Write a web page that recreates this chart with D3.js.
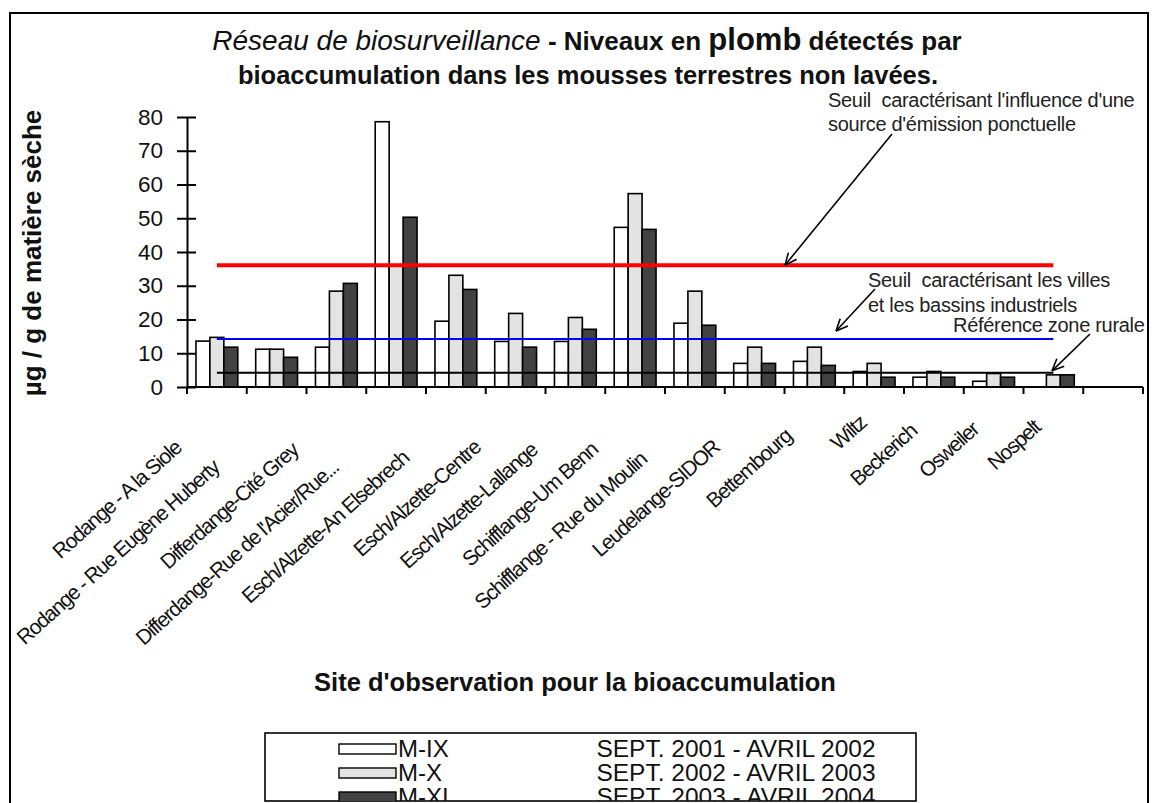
<!DOCTYPE html>
<html><head><meta charset="utf-8">
<script src="https://cdn.jsdelivr.net/npm/d3@7"></script>
<style>
html,body{margin:0;padding:0;background:#fff;overflow:hidden;}
svg{display:block;font-family:"Liberation Sans",Arial,Helvetica,sans-serif;}
</style></head><body>
<svg id="chart" width="1159" height="803"></svg>
<script>
// Sites d'observation (15 sites + one empty slot at the end of the axis)
const sites = [
  "Rodange - A la Siole", "Rodange - Rue Eugène Huberty", "Differdange-Cité Grey",
  "Differdange-Rue de l'Acier/Rue...", "Esch/Alzette-An Elsebrech", "Esch/Alzette-Centre",
  "Esch/Alzette-Lallange", "Schifflange-Um Benn", "Schifflange - Rue du Moulin",
  "Leudelange-SIDOR", "Bettembourg", "Wiltz", "Beckerich", "Osweiler", "Nospelt"
];
const slotCount = 16;

// Lead levels (µg / g dry matter) per campaign
const mIX  = [13.6, 11.2, 11.8, 78.6, 19.5, 13.5, 13.5, 47.3, 18.9, 7.0, 7.6, 4.6, 2.9, 1.7, null];
const mX   = [14.7, 11.2, 28.4, 36.0, 33.1, 21.8, 20.6, 57.3, 28.4, 11.8, 11.8, 7.0, 4.6, 4.0, 3.6];
const mXI  = [11.8, 8.8, 30.7, 50.3, 28.9, 11.8, 17.1, 46.7, 18.3, 7.0, 6.4, 2.9, 2.9, 2.9, 3.6];

const seriesKeys    = ["M-IX", "M-X", "M-XI"];
const seriesPeriods = ["SEPT. 2001 - AVRIL 2002", "SEPT. 2002 - AVRIL 2003", "SEPT. 2003 - AVRIL 2004"];
const seriesFill    = ["#ffffff", "#e3e3e3", "#424242"];

// Reference thresholds
const thresholdValues = [36.1, 14.2, 4.2];
const thresholdColors = ["#ff0000", "#0000ff", "#000000"];
const thresholdWidths = [4, 2, 2];

const yTicks = [0, 10, 20, 30, 40, 50, 60, 70, 80];

const svg = d3.select("#chart");
const plot = {left: 187, right: 1143, top: 117, bottom: 387};
const INK = "#111";

// Outer frame
svg.append("rect").attr("x", 10).attr("y", 13).attr("width", 1138).attr("height", 820)
  .attr("fill", "#fff").attr("stroke", "#000").attr("stroke-width", 2);

const y = d3.scaleLinear().domain([0, 80]).range([plot.bottom, plot.top]);
const x0 = d3.scaleBand().domain(d3.range(slotCount)).range([plot.left, plot.right]).padding(0);
const bw = x0.bandwidth();
const x1 = d3.scaleBand().domain(seriesKeys).range([bw * 0.15, bw * 0.85]).padding(0);

// Bars
[mIX, mX, mXI].forEach((vals, si) => {
  svg.append("g").selectAll("rect")
    .data(vals.map((v, i) => ({i, v})).filter(d => d.v != null))
    .join("rect")
    .attr("x", d => x0(d.i) + x1(seriesKeys[si]))
    .attr("y", d => y(d.v))
    .attr("width", x1.bandwidth())
    .attr("height", d => y(0) - y(d.v))
    .attr("fill", seriesFill[si])
    .attr("stroke", "#000").attr("stroke-width", 1.6);
});

// Threshold lines, drawn from the first to the last site
const xFirst = x0(0) + bw / 2, xLast = x0(sites.length - 1) + bw / 2;
thresholdValues.forEach((v, k) => {
  svg.append("line")
    .attr("x1", xFirst).attr("x2", xLast)
    .attr("y1", y(v)).attr("y2", y(v))
    .attr("stroke", thresholdColors[k]).attr("stroke-width", thresholdWidths[k]);
});

// Y axis
const yAxis = svg.append("g").attr("transform", `translate(${plot.left},0)`)
  .call(d3.axisLeft(y).tickValues(yTicks).tickSize(10).tickPadding(14).tickSizeOuter(0));
yAxis.select(".domain").attr("stroke", "#000").attr("stroke-width", 2);
yAxis.selectAll(".tick line").attr("stroke", "#000").attr("stroke-width", 2).attr("x2", -10).attr("x1", 9);
yAxis.selectAll(".tick text").attr("font-size", 22.5).attr("fill", INK)
  .attr("font-family", "'Liberation Sans',Arial,sans-serif");

// X axis: baseline with tick marks at slot boundaries
svg.append("line").attr("x1", plot.left).attr("x2", plot.right)
  .attr("y1", y(0)).attr("y2", y(0)).attr("stroke", "#000").attr("stroke-width", 2);
svg.append("g").selectAll("line")
  .data(d3.range(slotCount + 1))
  .join("line")
  .attr("x1", i => plot.left + i * bw).attr("x2", i => plot.left + i * bw)
  .attr("y1", y(0)).attr("y2", y(0) + 7)
  .attr("stroke", "#000").attr("stroke-width", 2);

// Rotated site labels: the longer the label, the further it slides down-left
const labelG = svg.append("g");
sites.forEach((s, i) => {
  const t = labelG.append("text")
    .attr("font-size", 21).attr("letter-spacing", -1.3).attr("fill", INK)
    .attr("text-anchor", "end").text(s);
  const L = t.node().getComputedTextLength();
  const shift = 0.22 * L - 2;
  const px = x0(i) + bw / 2 - shift;
  const py = y(0) + 32 + 0.9 * shift;
  t.attr("transform", `translate(${px},${py}) rotate(-42)`);
});

// Axis titles
svg.append("text")
  .attr("transform", "translate(41,253) rotate(-90)")
  .attr("text-anchor", "middle").attr("font-size", 26).attr("font-weight", "bold")
  .attr("fill", INK)
  .text("µg  / g de matière sèche");

svg.append("text")
  .attr("x", 575).attr("y", 691)
  .attr("text-anchor", "middle").attr("font-size", 25.5).attr("font-weight", "bold")
  .attr("fill", INK)
  .text("Site d'observation pour la bioaccumulation");

// Title
const title = svg.append("text").attr("x", 587).attr("y", 50).attr("text-anchor", "middle").attr("fill", INK);
title.append("tspan").attr("font-style", "italic").attr("font-size", 28).text("Réseau de biosurveillance");
title.append("tspan").attr("font-weight", "bold").attr("font-size", 26).text(" - Niveaux en ");
title.append("tspan").attr("font-weight", "bold").attr("font-size", 31).text("plomb");
title.append("tspan").attr("font-weight", "bold").attr("font-size", 26).text(" détectés par");
svg.append("text").attr("x", 588).attr("y", 84).attr("text-anchor", "middle")
  .attr("font-weight", "bold").attr("font-size", 25.5).attr("fill", INK)
  .text("bioaccumulation dans les mousses terrestres non lavées.");

// Threshold annotations with arrows
function arrow(xa, ya, xb, yb) {
  svg.append("line").attr("x1", xa).attr("y1", ya).attr("x2", xb).attr("y2", yb)
    .attr("stroke", "#000").attr("stroke-width", 1.6);
  const ang = Math.atan2(yb - ya, xb - xa), len = 13, spread = 0.42;
  [ang + Math.PI - spread, ang + Math.PI + spread].forEach(a => {
    svg.append("line").attr("x1", xb).attr("y1", yb)
      .attr("x2", xb + len * Math.cos(a)).attr("y2", yb + len * Math.sin(a))
      .attr("stroke", "#000").attr("stroke-width", 1.6);
  });
}
function note(xp, yp, lines, gap) {
  const t = svg.append("text").attr("font-size", 20).attr("letter-spacing", -0.3).attr("fill", "#222");
  lines.forEach((l, k) => t.append("tspan").attr("x", xp).attr("y", yp + k * gap)
    .attr("xml:space", "preserve").text(l));
}
note(828, 107, ["Seuil  caractérisant l'influence d'une", "source d'émission ponctuelle"], 24);
arrow(892, 134, 785, y(thresholdValues[0]));
note(868, 287, ["Seuil  caractérisant les villes", "et les bassins industriels"], 24.5);
arrow(875, 289, 836, y(thresholdValues[1]) - 8);
note(953, 332, ["Référence zone rurale"], 0);
arrow(1090, 334, 1052, y(thresholdValues[2]) - 2);

// Legend (its lower edge sits at the bottom of the frame and crops the last row)
const legBox = {x: 265, y: 733, w: 651, h: 68};
const leg = svg.append("g");
leg.append("clipPath").attr("id", "legclip").append("rect")
  .attr("x", legBox.x).attr("y", legBox.y).attr("width", legBox.w).attr("height", legBox.h);
leg.append("rect").attr("x", legBox.x).attr("y", legBox.y).attr("width", legBox.w).attr("height", legBox.h)
  .attr("fill", "#fff").attr("stroke", "#000").attr("stroke-width", 1.6);
const legIn = leg.append("g").attr("clip-path", "url(#legclip)");
seriesKeys.forEach((k, i) => {
  const base = 757 + i * 24;
  legIn.append("rect").attr("x", 339).attr("y", base - 13).attr("width", 57).attr("height", 10)
    .attr("fill", seriesFill[i]).attr("stroke", "#000").attr("stroke-width", 1.4);
  legIn.append("text").attr("x", 398).attr("y", base)
    .attr("font-size", 24).attr("fill", INK).text(k);
  legIn.append("text").attr("x", 736).attr("y", base)
    .attr("text-anchor", "middle").attr("font-size", 24.5).attr("fill", INK).text(seriesPeriods[i]);
});
</script>
</body></html>
